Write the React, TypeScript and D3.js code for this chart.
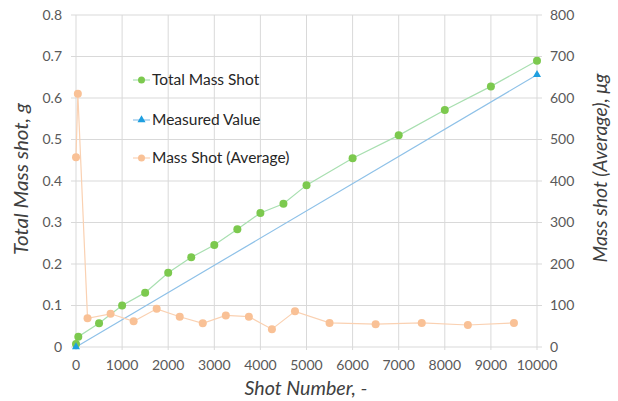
import React from "react";
import * as d3 from "d3";

// Total mass shot (g) against shot number
const totalShots = [0, 50, 500, 1000, 1500, 2000, 2500, 3000, 3500, 4000, 4500, 5000, 6000, 7000, 8000, 9000, 10000];
const totalMass = [0.007, 0.025, 0.057, 0.1, 0.131, 0.179, 0.216, 0.246, 0.284, 0.323, 0.345, 0.39, 0.455, 0.51, 0.571, 0.628, 0.69];

// Measured value (g)
const measuredShots = [0, 10000];
const measuredMass = [0, 0.656];

// Average mass per shot (µg), right axis
const avgShots = [0, 40, 250, 750, 1250, 1750, 2250, 2750, 3250, 3750, 4250, 4750, 5500, 6500, 7500, 8500, 9500];
const avgMass = [457, 610, 69, 80, 62, 92, 73, 57, 76, 73, 43, 86, 58, 55, 58, 53, 58];

const xTicks = [0, 1000, 2000, 3000, 4000, 5000, 6000, 7000, 8000, 9000, 10000];
const yLeftTicks = [0, 0.1, 0.2, 0.3, 0.4, 0.5, 0.6, 0.7, 0.8];
const yRightTicks = [0, 100, 200, 300, 400, 500, 600, 700, 800];

const legendItems = ["Total Mass Shot", "Measured Value", "Mass Shot (Average)"];

const W = 618;
const H = 401;
const plot = { left: 76, right: 537, top: 15, bottom: 347 };

const GREEN = "#7CC94E";
const GREEN_LINE = "#A8DFB0";
const BLUE = "#1E9FE0";
const BLUE_LINE = "#8EC1E8";
const ORANGE = "#F9C196";
const ORANGE_LINE = "#FAD1B2";
const TEXT = "#595959";
const GRID = "#D9D9D9";
const FONT = "Lato, 'Open Sans', sans-serif";

export default function App() {
  const x = d3.scaleLinear().domain([0, 10000]).range([plot.left, plot.right]);
  const yL = d3.scaleLinear().domain([0, 0.8]).range([plot.bottom, plot.top]);
  const yR = d3.scaleLinear().domain([0, 800]).range([plot.bottom, plot.top]);

  const totalPts: [number, number][] = totalShots.map((s, i) => [x(s), yL(totalMass[i])]);
  const measuredPts: [number, number][] = measuredShots.map((s, i) => [x(s), yL(measuredMass[i])]);
  const avgPts: [number, number][] = avgShots.map((s, i) => [x(s), yR(avgMass[i])]);
  const line = d3.line();

  const tri = d3.symbol().type(d3.symbolTriangle).size(28)();

  const legendY = [80, 120, 158];
  const legendMarker = (i: number, cx: number, cy: number) => {
    if (i === 0) return <circle cx={cx} cy={cy} r={3.5} fill={GREEN} />;
    if (i === 1) return <path d={tri || ""} transform={`translate(${cx},${cy})`} fill={BLUE} />;
    return <circle cx={cx} cy={cy} r={3.5} fill={ORANGE} />;
  };
  const legendLine = [GREEN_LINE, BLUE_LINE, ORANGE_LINE];

  const titleProps = {
    dy: "0.35em",
    textAnchor: "middle" as const,
    fontSize: 18.5,
    fontStyle: "italic",
    fill: "#404040",
    fontFamily: FONT,
    lengthAdjust: "spacingAndGlyphs" as const,
  };

  return (
    <svg width={W} height={H} style={{ position: "absolute", left: 0, top: 0, background: "#fff" }}>
      {/* grid */}
      {yLeftTicks.map((t) => (
        <line key={"h" + t} x1={plot.left - 5} x2={plot.right + 5} y1={yL(t)} y2={yL(t)} stroke={GRID} strokeWidth={1} />
      ))}
      {xTicks.map((t) => (
        <line key={"v" + t} x1={x(t)} x2={x(t)} y1={plot.top} y2={plot.bottom + 3} stroke={GRID} strokeWidth={1} />
      ))}

      {/* tick labels */}
      {yLeftTicks.map((t) => (
        <text key={"yl" + t} x={62} y={yL(t)} dy="0.35em" textAnchor="end" fontSize={14} fill={TEXT} fontFamily={FONT}>
          {t === 0 ? "0" : d3.format(".1f")(t)}
        </text>
      ))}
      {yRightTicks.map((t) => (
        <text key={"yr" + t} x={550} y={yR(t)} dy="0.35em" textAnchor="start" fontSize={14} fill={TEXT} fontFamily={FONT}>
          {t}
        </text>
      ))}
      {xTicks.map((t) => (
        <text key={"xt" + t} x={x(t)} y={365} dy="0.35em" textAnchor="middle" fontSize={14} fill={TEXT} fontFamily={FONT}>
          {t}
        </text>
      ))}

      {/* axis titles */}
      <text x={306} y={389} textLength={123} {...titleProps}>
        Shot Number, -
      </text>
      <text transform="translate(22,179) rotate(-90)" textLength={152} {...titleProps}>
        Total Mass shot, g
      </text>
      <text transform="translate(601,168) rotate(-90)" textLength={189} {...titleProps}>
        Mass shot (Average), μg
      </text>

      {/* series lines */}
      <path d={line(measuredPts) || ""} fill="none" stroke={BLUE_LINE} strokeWidth={1.2} />
      <path d={line(totalPts) || ""} fill="none" stroke={GREEN_LINE} strokeWidth={1.2} />
      <path d={line(avgPts) || ""} fill="none" stroke={ORANGE_LINE} strokeWidth={1.2} />

      {/* markers */}
      {avgPts.map(([px, py], i) => (
        <circle key={"a" + i} cx={px} cy={py} r={4} fill={ORANGE} />
      ))}
      {totalPts.map(([px, py], i) => (
        <circle key={"t" + i} cx={px} cy={py} r={4} fill={GREEN} />
      ))}
      {measuredPts.map(([px, py], i) => (
        <path key={"m" + i} d={tri || ""} transform={`translate(${px},${py})`} fill={BLUE} />
      ))}

      {/* legend */}
      {legendItems.map((name, i) => (
        <g key={name}>
          <line x1={133} x2={150} y1={legendY[i]} y2={legendY[i]} stroke={legendLine[i]} strokeWidth={1.2} />
          {legendMarker(i, 141.5, legendY[i])}
          <text x={152} y={legendY[i]} dy="0.35em" fontSize={15.5} fill="#262626" fontFamily={FONT}>
            {name}
          </text>
        </g>
      ))}
    </svg>
  );
}
